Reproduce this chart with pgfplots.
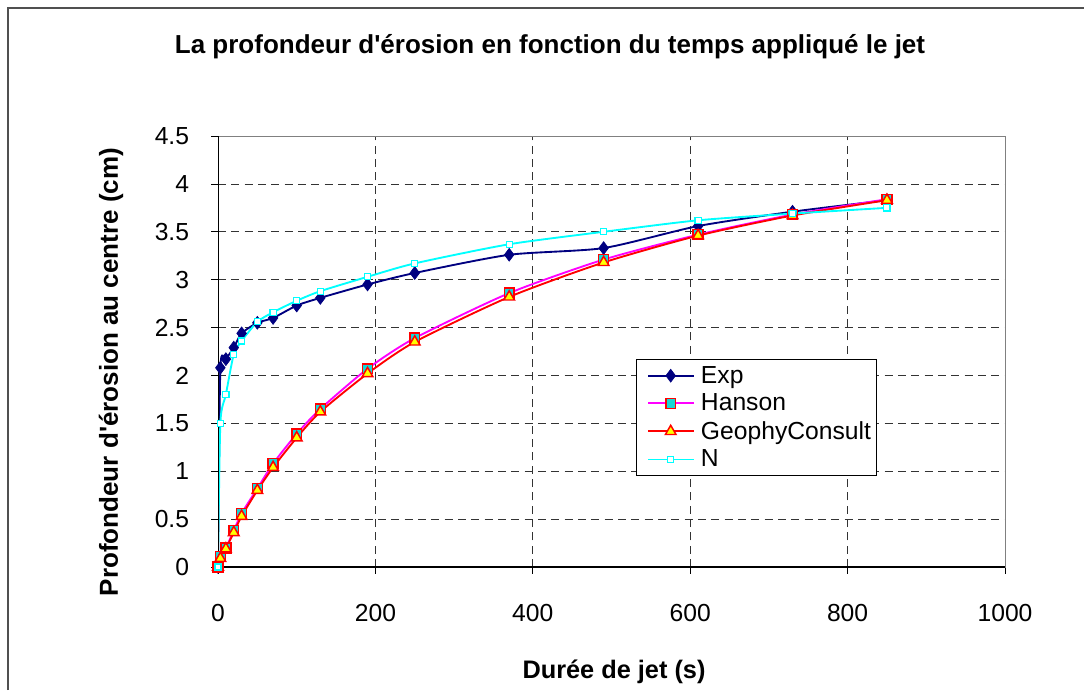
\documentclass[border=0pt]{standalone}
\usepackage{fontspec}
\setmainfont{Liberation Sans}
\usepackage{pgfplots}
\pgfplotsset{compat=1.18}

\definecolor{expnavy}{RGB}{0,0,128}
\definecolor{hmag}{RGB}{255,0,255}
\definecolor{hfill}{RGB}{20,215,215}
\definecolor{gred}{RGB}{255,0,0}
\definecolor{gyel}{RGB}{255,255,0}
\definecolor{ncyan}{RGB}{0,255,255}
\definecolor{framegray}{RGB}{80,80,80}

\begin{document}
\begin{tikzpicture}
  % chart area frame (cut at right and bottom like the screenshot)
  \draw[framegray, line width=1.1pt] (6pt,-517.5pt) -- (6pt,-6pt) -- (813pt,-6pt);

  \begin{axis}[
    at={(163.5pt,-425.25pt)}, anchor=south west,
    scale only axis, width=590.25pt, height=323.25pt,
    xmin=0, xmax=1000, ymin=0, ymax=4.5,
    xtick={0,200,...,1000},
    ytick={0,0.5,...,4.5},
    xtick pos=bottom, ytick pos=left,
    tick align=outside, major tick length=5pt,
    tick style={black, line width=0.6pt},
    axis line style={draw=gray, line width=0.6pt},
    grid=major,
    major grid style={black!80, line width=0.6pt, dash pattern=on 6pt off 4pt},
    /pgf/number format/assume math mode=true,
    /pgf/number format/1000 sep={},
    ticklabel style={font=\fontsize{18.5}{20}\selectfont},
    xticklabel style={anchor=center, yshift=-29.25pt},
    yticklabel style={anchor=east, inner sep=0pt, xshift=-16.5pt},
    legend cell align=left,
    legend style={at={(0.531,0.4826)}, anchor=north west,
      draw=black, line width=0.8pt, fill=white,
      font=\fontsize{18.5}{20}\selectfont,
      inner xsep=2pt, inner ysep=3pt, row sep=2.5pt},
    legend image code/.code={%
      \path (-6pt,0pt) (37pt,0pt);
      \draw[line width=1.4pt, mark repeat=2, mark phase=2, #1]
      plot coordinates {(0pt,0pt) (17pt,0pt) (34pt,0pt)};},
    every axis plot/.append style={line width=1.4pt},
  ]

  \addplot[expnavy, smooth, tension=0.4, mark=diamond*, mark size=4.8pt,
    mark options={fill=expnavy, draw=expnavy, line width=0.5pt}] coordinates {
    (0,0) (3,2.08) (10,2.17) (20,2.29) (30,2.44) (50,2.55) (70,2.60)
    (100,2.73) (130,2.81) (190,2.95) (250,3.07) (370,3.26) (490,3.33)
    (610,3.56) (730,3.71) (850,3.83)
  };
  \addlegendentry{Exp}

  \addplot[hmag, smooth, tension=0.4, mark=square*, mark size=3.7pt,
    mark options={fill=hfill, draw=gred, line width=1.1pt}] coordinates {
    (0,0) (3,0.11) (10,0.20) (20,0.38) (30,0.56) (50,0.82) (70,1.08)
    (100,1.39) (130,1.65) (190,2.07) (250,2.39) (370,2.86) (490,3.21)
    (610,3.47) (730,3.68) (850,3.84)
  };
  \addlegendentry{Hanson}

  \addplot[gred, smooth, tension=0.4, mark=triangle*, mark size=4.6pt,
    mark options={fill=gyel, draw=gred, line width=1.1pt}] coordinates {
    (0,0) (3,0.09) (10,0.19) (20,0.36) (30,0.53) (50,0.80) (70,1.04)
    (100,1.35) (130,1.62) (190,2.02) (250,2.35) (370,2.82) (490,3.18)
    (610,3.46) (730,3.67) (850,3.83)
  };
  \addlegendentry{GeophyConsult}

  \addplot[ncyan, smooth, tension=0.4, mark=square*, mark size=2.3pt,
    mark options={fill=white, draw=ncyan, line width=0.9pt}] coordinates {
    (0,0) (3,1.50) (10,1.80) (20,2.22) (30,2.36) (50,2.56) (70,2.66)
    (100,2.78) (130,2.88) (190,3.03) (250,3.17) (370,3.37) (490,3.50)
    (610,3.62) (730,3.69) (850,3.75)
  };
  \addlegendentry{N}

  \draw[black, line width=0.8pt] (rel axis cs:0,1) -- (rel axis cs:0,0) -- (rel axis cs:1,0);
  \end{axis}

  \node[font=\bfseries\fontsize{19.5}{22}\selectfont] at (412.5pt,-35.25pt)
    {La profondeur d\textquotesingle érosion en fonction du temps appliqué le jet};
  \node[font=\bfseries\fontsize{19.5}{22}\selectfont, rotate=90] at (83.25pt,-279pt)
    {Profondeur d\textquotesingle érosion au centre (cm)};
  \node[font=\bfseries\fontsize{19}{22}\selectfont] at (460.5pt,-504pt)
    {Durée de jet (s)};

  \pgfresetboundingbox
  \useasboundingbox (0pt,0pt) rectangle (813pt,-517.5pt);
\end{tikzpicture}
\end{document}
